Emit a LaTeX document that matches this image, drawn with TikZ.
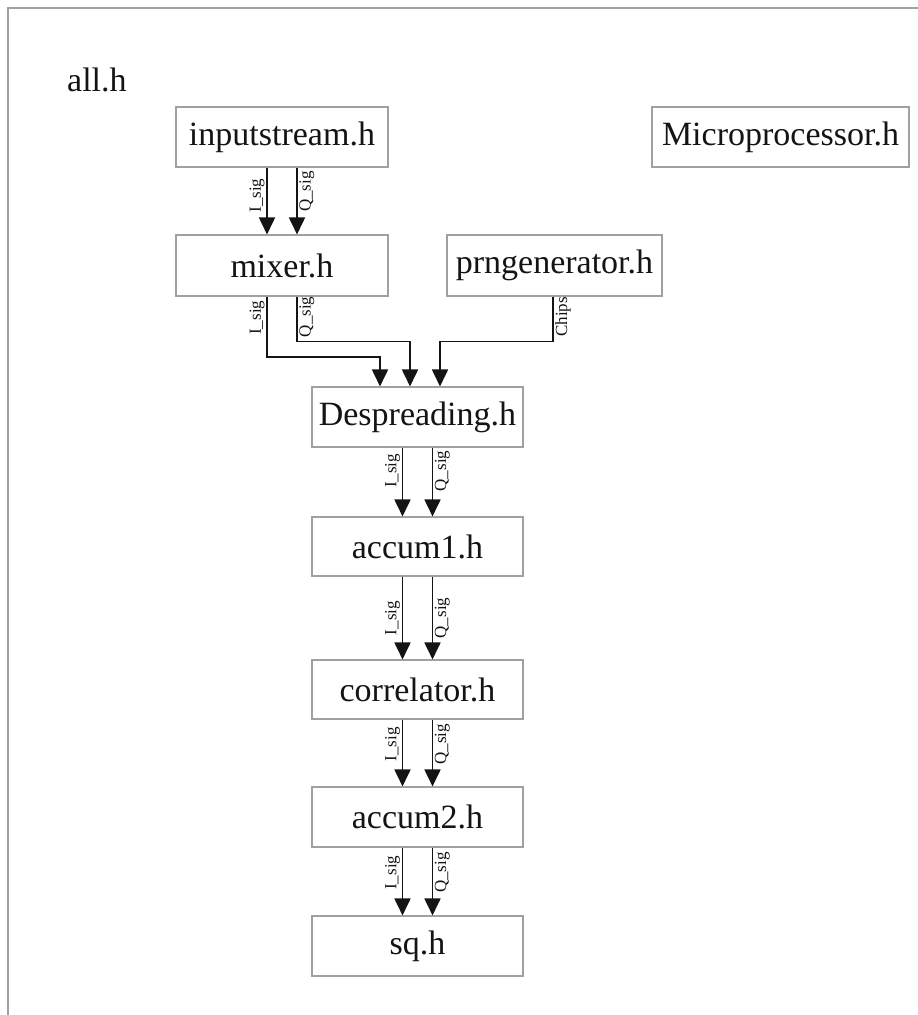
\documentclass[tikz,border=0pt]{standalone}
\usepackage{fontspec}
\setmainfont{Liberation Serif}
\usetikzlibrary{arrows.meta}
\definecolor{boxgray}{HTML}{A0A0A0}
\definecolor{ink}{HTML}{141414}
\tikzset{
  module/.style={draw=boxgray, line width=1.1pt, fill=white, text=ink,
    inner sep=0pt, font=\fontsize{34}{40}\selectfont},
  sig/.style={draw=ink, line width=1.8pt,
    -{Triangle[width=16pt,length=17pt]}},
  lbl/.style={rotate=90, inner sep=1.5pt, text=ink,
    font=\fontsize{17}{20}\selectfont},
  lblL/.style={lbl, anchor=south},
  lblR/.style={lbl, anchor=north},
}
\begin{document}
\begin{tikzpicture}[x=1pt, y=-1pt]
\useasboundingbox (0,0) rectangle (918,1015);
% enclosing frame of all.h
\draw[boxgray, line width=1.5pt] (918,8) -- (8,8) -- (8,1015);
\node[anchor=base west, text=ink, inner sep=0pt,
  font=\fontsize{34}{40}\selectfont] (all) at (67,91) {all.h};

% modules
\node[module, minimum width=212pt, minimum height=60pt] (in)   at (282,137)   {inputstream.h};
\node[module, minimum width=257pt, minimum height=60pt] (mp)   at (780.5,137) {Microprocessor.h};
\node[module, minimum width=212pt, minimum height=61pt] (mix)  at (282,265.5) {mixer.h};
\node[module, minimum width=215pt, minimum height=61pt] (prng) at (554.5,265.5) {prngenerator.h};
\node[module, minimum width=211pt, minimum height=60pt] (desp) at (417.5,417) {Despreading.h};
\node[module, minimum width=211pt, minimum height=59pt] (acc1) at (417.5,546.5) {accum1.h};
\node[module, minimum width=211pt, minimum height=59pt] (corr) at (417.5,689.5) {correlator.h};
\node[module, minimum width=211pt, minimum height=60pt] (acc2) at (417.5,817) {accum2.h};
\node[module, minimum width=211pt, minimum height=60pt] (sq)   at (417.5,946) {sq.h};

% inputstream -> mixer
\draw[sig] ([xshift=-15pt]in.south) -- node[lblL, pos=0.42]{I\_sig} ([xshift=-15pt]mix.north);
\draw[sig] ([xshift=15pt]in.south) -- node[lblR, pos=0.36]{Q\_sig} ([xshift=15pt]mix.north);

% mixer, prngenerator -> Despreading
\draw[sig] ([xshift=-15pt]mix.south) -- node[lblL, pos=0.35]{I\_sig} ++(0,60.5)
  -| ([xshift=-37.5pt]desp.north);
\draw[sig] ([xshift=15pt]mix.south) -- node[lblR, pos=0.45]{Q\_sig} ++(0,45)
  -| ([xshift=-7.5pt]desp.north);
\draw[sig] ([xshift=-1.5pt]prng.south) -- node[lblR, pos=0.45]{Chips} ++(0,45)
  -| ([xshift=22.5pt]desp.north);

% Despreading -> accum1
\draw[sig] ([xshift=-15pt]desp.south) -- node[lblL, pos=0.34]{I\_sig} ([xshift=-15pt]acc1.north);
\draw[sig] ([xshift=15pt]desp.south) -- node[lblR, pos=0.34]{Q\_sig} ([xshift=15pt]acc1.north);

% accum1 -> correlator
\draw[sig] ([xshift=-15pt]acc1.south) -- node[lblL, pos=0.5]{I\_sig} ([xshift=-15pt]corr.north);
\draw[sig] ([xshift=15pt]acc1.south) -- node[lblR, pos=0.5]{Q\_sig} ([xshift=15pt]corr.north);

% correlator -> accum2
\draw[sig] ([xshift=-15pt]corr.south) -- node[lblL, pos=0.37]{I\_sig} ([xshift=-15pt]acc2.north);
\draw[sig] ([xshift=15pt]corr.south) -- node[lblR, pos=0.37]{Q\_sig} ([xshift=15pt]acc2.north);

% accum2 -> sq
\draw[sig] ([xshift=-15pt]acc2.south) -- node[lblL, pos=0.37]{I\_sig} ([xshift=-15pt]sq.north);
\draw[sig] ([xshift=15pt]acc2.south) -- node[lblR, pos=0.37]{Q\_sig} ([xshift=15pt]sq.north);
\end{tikzpicture}
\end{document}
